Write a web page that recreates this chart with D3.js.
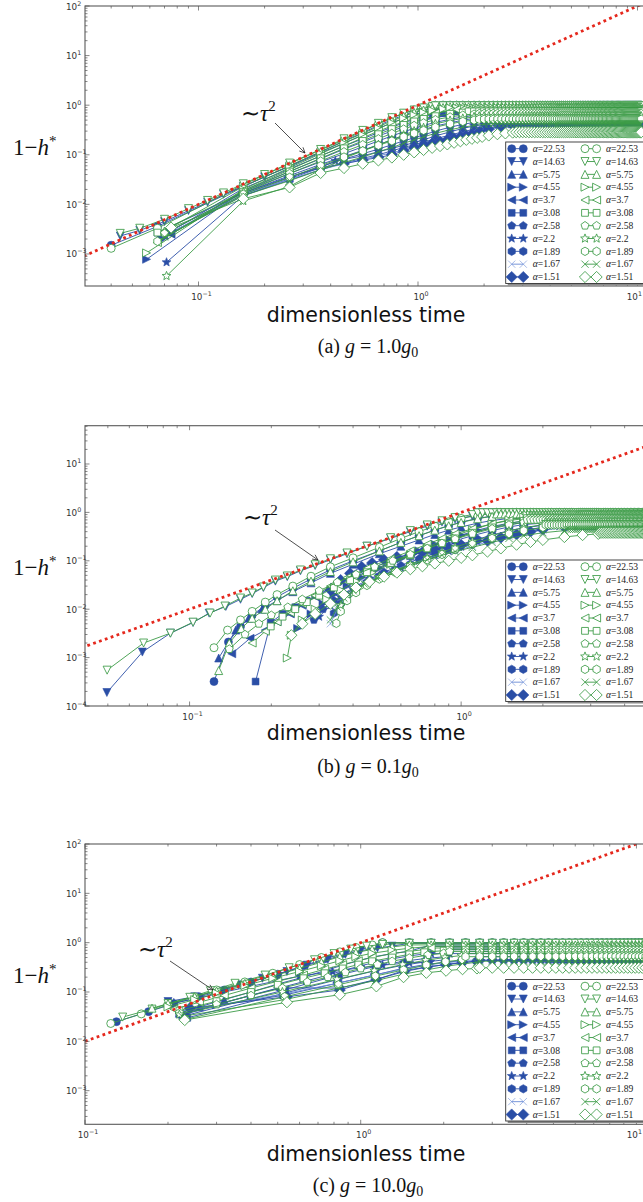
<!DOCTYPE html>
<html>
<head>
<meta charset="utf-8">
<script src="https://cdn.jsdelivr.net/npm/d3@7"></script>
<style>
body { margin: 0; background: #fff; }
svg { display: block; }
</style>
</head>
<body>
<div id="screen"></div>
<script>
var width = 643;
var height = 1202;

// legend labels, one per marker shape (blue = filled column, green = open column)
var alphas = ['22.53', '14.63', '5.75', '4.55', '3.7', '3.08', '2.58', '2.2', '1.89', '1.67', '1.51'];
var shapes = ['o', 'v', '^', '>', '<', 's', 'p', '*', 'h', 'x', 'D'];
var panelTags = ['(a)', '(b)', '(c)'];
var gravity = ['1.0', '0.1', '10.0'];

// --- panel (a), g = 1.0 g0 : transient points [tau, 1-h*] and steady level ---
var aBlue = [
  [[0.04,1.5e-3],[0.065,3.6e-3],[0.16,0.023],[0.26,0.06],[0.36,0.115],[0.46,0.19],[0.56,0.28],[0.66,0.39],[0.76,0.51],[0.86,0.63],[0.96,0.75],[1.06,0.85],[1.16,0.92]],
  [[0.044,2.3e-3],[0.054,3e-3],[0.07,4.5e-3],[0.09,7.5e-3],[0.11,0.011],[0.13,0.016],[0.16,0.023],[0.2,0.036],[0.26,0.058],[0.36,0.11],[0.46,0.17],[0.56,0.25],[0.66,0.34],[0.76,0.44],[0.86,0.54],[0.96,0.64],[1.06,0.72],[1.16,0.79],[1.26,0.85]],
  [[0.07,2.4e-3],[0.16,0.021],[0.26,0.052],[0.36,0.095],[0.46,0.15],[0.56,0.21],[0.66,0.28],[0.76,0.36],[0.86,0.44],[0.96,0.52],[1.06,0.59],[1.16,0.65],[1.3,0.71],[1.5,0.77]],
  [[0.058,7.8e-4],[0.16,0.019],[0.26,0.046],[0.36,0.083],[0.46,0.13],[0.56,0.18],[0.66,0.24],[0.76,0.3],[0.86,0.37],[0.96,0.43],[1.06,0.49],[1.2,0.56],[1.4,0.63],[1.6,0.68]],
  [[0.075,2.5e-3],[0.16,0.018],[0.26,0.042],[0.36,0.072],[0.46,0.105],[0.56,0.145],[0.66,0.19],[0.76,0.24],[0.86,0.29],[0.96,0.34],[1.06,0.39],[1.2,0.45],[1.4,0.52],[1.6,0.58],[1.8,0.62]],
  [[0.065,2.7e-3],[0.16,0.017],[0.26,0.038],[0.36,0.064],[0.46,0.092],[0.56,0.123],[0.66,0.16],[0.76,0.2],[0.86,0.24],[0.96,0.28],[1.06,0.32],[1.2,0.38],[1.4,0.44],[1.6,0.5],[1.8,0.54],[2.0,0.57]],
  [[0.075,2.7e-3],[0.16,0.016],[0.26,0.035],[0.36,0.058],[0.46,0.082],[0.56,0.105],[0.66,0.13],[0.76,0.16],[0.86,0.19],[0.96,0.22],[1.06,0.25],[1.2,0.3],[1.4,0.36],[1.6,0.41],[1.8,0.45],[2.0,0.48],[2.3,0.51]],
  [[0.0715,6.8e-4],[0.16,0.015],[0.26,0.033],[0.36,0.055],[0.42,0.075],[0.56,0.095],[0.66,0.115],[0.76,0.135],[0.86,0.155],[0.96,0.175],[1.06,0.2],[1.2,0.24],[1.4,0.29],[1.6,0.34],[1.8,0.38],[2.0,0.41],[2.3,0.44]],
  [[0.0675,2.1e-3],[0.16,0.015],[0.26,0.031],[0.36,0.05],[0.46,0.068],[0.56,0.085],[0.66,0.1],[0.76,0.12],[0.86,0.14],[0.96,0.16],[1.06,0.18],[1.2,0.21],[1.4,0.25],[1.6,0.29],[1.8,0.33],[2.0,0.36],[2.3,0.4],[2.6,0.42]],
  [[0.07,2.3e-3],[0.16,0.016],[0.26,0.032],[0.36,0.05],[0.46,0.066],[0.56,0.08],[0.66,0.095],[0.76,0.11],[0.86,0.125],[0.96,0.14],[1.06,0.16],[1.2,0.19],[1.4,0.23],[1.6,0.27],[1.8,0.3],[2.0,0.33],[2.3,0.37],[2.6,0.4],[2.9,0.43]],
  [[0.075,3e-3],[0.16,0.017],[0.26,0.036],[0.36,0.055],[0.46,0.066],[0.56,0.078],[0.66,0.088],[0.76,0.1],[0.86,0.12],[0.96,0.14],[1.06,0.155],[1.16,0.17],[1.26,0.185],[1.36,0.2],[1.46,0.215],[1.56,0.23],[1.66,0.245],[1.76,0.26],[1.9,0.29],[2.1,0.33],[2.4,0.37],[2.7,0.4],[2.9,0.44]]
];
var aBlueFlat = [1.0, 0.97, 0.93, 0.88, 0.82, 0.75, 0.68, 0.6, 0.52, 0.45, 0.45];
var aGreen = [
  [[0.04,1.3e-3],[0.065,3.3e-3],[0.16,0.025],[0.26,0.066],[0.36,0.125],[0.46,0.2],[0.56,0.3],[0.66,0.42],[0.76,0.55],[0.86,0.68],[0.96,0.8],[1.06,0.9],[1.16,0.96]],
  [[0.044,2.6e-3],[0.054,3.3e-3],[0.07,5e-3],[0.09,8.2e-3],[0.11,0.012],[0.13,0.017],[0.16,0.026],[0.2,0.04],[0.26,0.068],[0.36,0.128],[0.46,0.21],[0.56,0.31],[0.66,0.43],[0.76,0.56],[0.86,0.69],[0.96,0.8],[1.06,0.88],[1.16,0.93]],
  [[0.07,2.9e-3],[0.16,0.023],[0.26,0.06],[0.36,0.115],[0.46,0.185],[0.56,0.27],[0.66,0.37],[0.76,0.48],[0.86,0.6],[0.96,0.71],[1.06,0.8],[1.16,0.86],[1.3,0.9]],
  [[0.058,1.05e-3],[0.16,0.02],[0.26,0.055],[0.36,0.105],[0.46,0.17],[0.56,0.25],[0.66,0.34],[0.76,0.44],[0.86,0.54],[0.96,0.63],[1.06,0.71],[1.16,0.78],[1.3,0.84]],
  [[0.065,1.7e-3],[0.16,0.019],[0.26,0.05],[0.36,0.095],[0.46,0.15],[0.56,0.22],[0.66,0.3],[0.76,0.38],[0.86,0.46],[0.96,0.54],[1.06,0.61],[1.2,0.69],[1.4,0.76]],
  [[0.065,2.7e-3],[0.16,0.018],[0.26,0.046],[0.36,0.085],[0.46,0.135],[0.56,0.19],[0.66,0.26],[0.76,0.33],[0.86,0.4],[0.96,0.47],[1.06,0.53],[1.2,0.6],[1.4,0.67],[1.6,0.71]],
  [[0.07,2.6e-3],[0.16,0.017],[0.26,0.042],[0.36,0.075],[0.46,0.115],[0.56,0.16],[0.66,0.21],[0.76,0.27],[0.86,0.33],[0.96,0.39],[1.06,0.44],[1.2,0.51],[1.4,0.58],[1.6,0.63],[1.8,0.66]],
  [[0.0715,3.6e-4],[0.16,0.0117],[0.26,0.023],[0.36,0.05],[0.46,0.085],[0.56,0.12],[0.66,0.16],[0.76,0.2],[0.86,0.25],[0.96,0.3],[1.06,0.35],[1.2,0.42],[1.4,0.49],[1.6,0.54],[1.8,0.58]],
  [[0.065,1.8e-3],[0.16,0.016],[0.26,0.035],[0.36,0.06],[0.46,0.09],[0.56,0.12],[0.66,0.155],[0.76,0.19],[0.86,0.23],[0.96,0.27],[1.06,0.31],[1.2,0.36],[1.4,0.42],[1.6,0.47],[1.8,0.5]],
  [[0.07,2.2e-3],[0.16,0.015],[0.26,0.03],[0.36,0.05],[0.46,0.07],[0.56,0.09],[0.66,0.115],[0.76,0.14],[0.86,0.17],[0.96,0.2],[1.06,0.23],[1.2,0.27],[1.4,0.32],[1.6,0.36],[1.8,0.39],[2.0,0.41]],
  [[0.075,3.4e-3],[0.16,0.013],[0.26,0.022],[0.36,0.043],[0.46,0.054],[0.56,0.066],[0.66,0.077],[0.76,0.088],[0.86,0.1],[0.96,0.112],[1.06,0.125],[1.16,0.138],[1.26,0.15],[1.36,0.162],[1.46,0.175],[1.56,0.187],[1.66,0.2],[1.76,0.21],[1.86,0.22],[1.96,0.23],[2.1,0.245],[2.3,0.26],[2.5,0.27],[2.7,0.28]]
];
var aGreenFlat = [1.0, 0.97, 0.93, 0.88, 0.82, 0.75, 0.68, 0.6, 0.52, 0.42, 0.285];
var flatTimesA = [1.1,1.2,1.3,1.4,1.5,1.6,1.7,1.8,1.9,2.0,2.1,2.2,2.3,2.4,2.5,2.6,2.7,2.8,2.9,3.0,
  3.1,3.2,3.3,3.4,3.5,3.6,3.7,3.8,3.9,4.0,4.1,4.2,4.3,4.4,4.5,4.6,4.7,4.8,4.9,5.0,
  5.1,5.2,5.3,5.4,5.5,5.6,5.7,5.8,5.9,6.0,6.1,6.2,6.3,6.4,6.5,6.6,6.7,6.8,6.9,7.0,
  7.1,7.2,7.3,7.4,7.5,7.6,7.7,7.8,7.9,8.0,8.1,8.2,8.3,8.4,8.5,8.6,8.7,8.8,8.9,9.0,
  9.1,9.2,9.3,9.4,9.5,9.6,9.7,9.8,9.9,10.0,10.1,10.2,10.3,10.4];
var refA = [[0.03, 9e-4], [12, 144]];

// --- panel (b), g = 0.1 g0 ---
var bBlue = [
  [[0.123,3.2e-4],[0.139,2.1e-3],[0.154,4.4e-3],[0.17,7.5e-3],[0.19,0.012],[0.21,0.018],[0.24,0.027],[0.28,0.042],[0.33,0.065],[0.4,0.1],[0.5,0.16],[0.6,0.24],[0.7,0.33],[0.8,0.43],[0.9,0.53],[1.0,0.63],[1.15,0.75],[1.3,0.84]],
  [[0.0496,1.9e-4],[0.067,1.3e-3],[0.085,3.2e-3],[0.103,5.3e-3],[0.118,8.3e-3],[0.136,0.0114],[0.154,0.016],[0.17,0.021],[0.187,0.028],[0.207,0.038],[0.229,0.047],[0.256,0.062],[0.29,0.08],[0.33,0.105],[0.38,0.14],[0.45,0.2],[0.55,0.29],[0.65,0.4],[0.75,0.52],[0.85,0.63],[0.95,0.73],[1.1,0.84]],
  [[0.128,9.8e-4],[0.148,3.7e-3],[0.165,6.5e-3],[0.185,0.01],[0.21,0.015],[0.24,0.023],[0.28,0.035],[0.33,0.055],[0.4,0.085],[0.5,0.14],[0.6,0.2],[0.7,0.27],[0.8,0.35],[0.9,0.43],[1.0,0.5],[1.15,0.6],[1.3,0.68],[1.5,0.75]],
  [[0.25,4e-3],[0.28,8e-3],[0.31,0.013],[0.34,0.02],[0.38,0.03],[0.43,0.045],[0.5,0.07],[0.6,0.11],[0.7,0.16],[0.8,0.22],[0.9,0.28],[1.0,0.34],[1.15,0.43],[1.3,0.51],[1.5,0.6],[1.7,0.66]],
  [[0.143,1.2e-3],[0.167,2.5e-3],[0.19,3.7e-3],[0.21,5.5e-3],[0.235,8e-3],[0.26,0.012],[0.29,0.018],[0.33,0.028],[0.38,0.042],[0.45,0.065],[0.55,0.1],[0.65,0.14],[0.75,0.19],[0.85,0.24],[0.95,0.3],[1.1,0.38],[1.3,0.48],[1.5,0.56],[1.7,0.62]],
  [[0.175,3.2e-4],[0.199,5.3e-3],[0.22,8e-3],[0.245,0.011],[0.27,0.015],[0.3,0.02],[0.34,0.029],[0.39,0.042],[0.45,0.06],[0.55,0.09],[0.65,0.125],[0.75,0.165],[0.85,0.21],[0.95,0.26],[1.1,0.33],[1.3,0.42],[1.5,0.5],[1.7,0.56],[2.0,0.6]],
  [[0.287,6e-3],[0.31,0.01],[0.34,0.015],[0.37,0.021],[0.41,0.03],[0.46,0.042],[0.52,0.058],[0.6,0.08],[0.7,0.11],[0.8,0.145],[0.9,0.18],[1.0,0.22],[1.15,0.28],[1.3,0.34],[1.5,0.42],[1.7,0.48],[2.0,0.54]],
  [[0.3,7e-3],[0.33,0.012],[0.36,0.018],[0.4,0.026],[0.45,0.037],[0.5,0.05],[0.6,0.072],[0.7,0.1],[0.8,0.13],[0.9,0.16],[1.0,0.195],[1.15,0.25],[1.3,0.3],[1.5,0.37],[1.7,0.43],[2.0,0.49],[2.3,0.52]],
  [[0.34,8.3e-3],[0.36,0.013],[0.38,0.019],[0.41,0.027],[0.45,0.036],[0.5,0.048],[0.57,0.065],[0.65,0.085],[0.75,0.11],[0.85,0.14],[0.95,0.17],[1.1,0.22],[1.3,0.28],[1.5,0.34],[1.7,0.4],[2.0,0.46],[2.4,0.5]],
  [[0.33,5e-3],[0.35,0.01],[0.37,0.016],[0.4,0.024],[0.44,0.034],[0.49,0.046],[0.56,0.063],[0.65,0.085],[0.75,0.11],[0.85,0.135],[0.95,0.16],[1.1,0.2],[1.3,0.26],[1.5,0.32],[1.7,0.37],[2.0,0.43],[2.4,0.48]],
  [[0.33,0.025],[0.36,0.04],[0.39,0.055],[0.43,0.075],[0.47,0.09],[0.52,0.105],[0.58,0.12],[0.65,0.135],[0.72,0.15],[0.8,0.17],[0.9,0.19],[1.0,0.21],[1.1,0.23],[1.25,0.26],[1.4,0.3],[1.6,0.35],[1.8,0.4],[2.0,0.44],[2.4,0.5],[2.8,0.54]]
];
var bBlueFlat = [1.0, 0.98, 0.93, 0.88, 0.82, 0.76, 0.7, 0.63, 0.55, 0.5, 0.57];
var bGreen = [
  [[0.123,1.6e-3],[0.138,3.7e-3],[0.154,6e-3],[0.17,9e-3],[0.19,0.014],[0.21,0.02],[0.24,0.03],[0.28,0.048],[0.33,0.075],[0.4,0.115],[0.5,0.19],[0.6,0.29],[0.7,0.4],[0.8,0.52],[0.9,0.64],[1.0,0.75],[1.15,0.87],[1.3,0.94]],
  [[0.0497,5.5e-4],[0.0677,2e-3],[0.085,3.2e-3],[0.103,5.4e-3],[0.119,8.3e-3],[0.135,0.0116],[0.154,0.017],[0.17,0.0216],[0.187,0.0288],[0.207,0.04],[0.229,0.0486],[0.256,0.0646],[0.29,0.083],[0.33,0.11],[0.38,0.145],[0.45,0.2],[0.55,0.3],[0.65,0.42],[0.75,0.55],[0.85,0.67],[0.95,0.78],[1.1,0.9]],
  [[0.128,5.4e-4],[0.14,2e-3],[0.155,4e-3],[0.17,6.5e-3],[0.19,0.01],[0.21,0.015],[0.24,0.024],[0.28,0.038],[0.33,0.06],[0.4,0.095],[0.5,0.16],[0.6,0.24],[0.7,0.33],[0.8,0.43],[0.9,0.53],[1.0,0.62],[1.15,0.74],[1.3,0.83]],
  [[0.229,9.8e-4],[0.237,2.9e-3],[0.26,6e-3],[0.29,0.01],[0.32,0.016],[0.36,0.025],[0.41,0.038],[0.47,0.057],[0.55,0.085],[0.65,0.13],[0.75,0.19],[0.85,0.26],[0.95,0.33],[1.1,0.44],[1.3,0.58],[1.5,0.7],[1.7,0.8]],
  [[0.17,2e-3],[0.19,3.5e-3],[0.21,5.5e-3],[0.235,8.5e-3],[0.26,0.013],[0.29,0.019],[0.33,0.03],[0.38,0.045],[0.45,0.07],[0.55,0.11],[0.65,0.16],[0.75,0.22],[0.85,0.29],[0.95,0.36],[1.1,0.46],[1.3,0.58],[1.5,0.68],[1.7,0.74]],
  [[0.199,4.4e-3],[0.22,7e-3],[0.245,0.01],[0.27,0.014],[0.3,0.019],[0.34,0.028],[0.39,0.04],[0.45,0.058],[0.55,0.09],[0.65,0.13],[0.75,0.18],[0.85,0.23],[0.95,0.29],[1.1,0.38],[1.3,0.49],[1.5,0.59],[1.7,0.67]],
  [[0.14,1.5e-3],[0.16,3e-3],[0.18,5e-3],[0.2,7.5e-3],[0.23,0.011],[0.26,0.016],[0.3,0.024],[0.35,0.036],[0.41,0.052],[0.48,0.075],[0.56,0.1],[0.65,0.135],[0.75,0.18],[0.85,0.23],[0.95,0.28],[1.1,0.36],[1.3,0.46],[1.5,0.55],[1.7,0.62]],
  [[0.36,0.012],[0.38,0.018],[0.41,0.025],[0.45,0.034],[0.5,0.046],[0.57,0.063],[0.65,0.085],[0.75,0.115],[0.85,0.15],[0.95,0.19],[1.1,0.25],[1.3,0.33],[1.5,0.41],[1.7,0.48],[2.0,0.56]],
  [[0.347,5.1e-3],[0.36,9e-3],[0.38,0.015],[0.41,0.022],[0.45,0.031],[0.5,0.042],[0.57,0.058],[0.65,0.078],[0.75,0.105],[0.85,0.135],[0.95,0.17],[1.1,0.22],[1.3,0.29],[1.5,0.36],[1.7,0.42],[2.0,0.49]],
  [[0.33,6e-3],[0.35,0.011],[0.37,0.017],[0.4,0.024],[0.44,0.033],[0.49,0.044],[0.56,0.06],[0.65,0.08],[0.75,0.105],[0.85,0.13],[0.95,0.155],[1.1,0.19],[1.3,0.24],[1.5,0.29],[1.7,0.33],[2.0,0.38],[2.4,0.42]],
  [[0.237,2.9e-3],[0.26,5e-3],[0.29,8e-3],[0.33,0.013],[0.37,0.02],[0.41,0.028],[0.46,0.037],[0.52,0.047],[0.58,0.057],[0.65,0.067],[0.72,0.077],[0.8,0.088],[0.9,0.1],[1.0,0.115],[1.1,0.13],[1.25,0.155],[1.4,0.18],[1.6,0.215],[1.8,0.245],[2.0,0.27],[2.4,0.31],[2.8,0.34],[3.2,0.36]]
];
var bGreenFlat = [1.0, 0.98, 0.93, 0.88, 0.82, 0.76, 0.7, 0.63, 0.55, 0.45, 0.38];
var flatTimesB = [0.9,0.95,1.0,1.05,1.1,1.15,1.2,1.25,1.3,1.35,1.4,1.45,1.5,1.55,1.6,1.65,1.7,1.75,1.8,1.85,
  1.9,1.95,2.0,2.05,2.1,2.15,2.2,2.25,2.3,2.35,2.4,2.45,2.5,2.55,2.6,2.65,2.7,2.75,2.8,2.85,
  2.9,2.95,3.0,3.05,3.1,3.15,3.2,3.25,3.3,3.35,3.4,3.45,3.5,3.55,3.6,3.65,3.7,3.75,3.8,3.85,
  3.9,3.95,4.0,4.05,4.1,4.15,4.2,4.25,4.3,4.35,4.4,4.45,4.5,4.55,4.6,4.65,4.7,4.75,4.8,4.85,4.9];
var refB = [[0.04, 1.6e-3], [5, 25]];

// --- panel (c), g = 10.0 g0 ---
var cBlue = [
  [[0.13,0.025],[0.17,0.04],[0.21,0.058],[0.26,0.08],[0.32,0.11],[0.4,0.16],[0.5,0.23],[0.62,0.34],[0.74,0.47],[0.86,0.6],[0.98,0.72],[1.1,0.82]],
  [[0.2,0.064],[0.25,0.08],[0.3,0.105],[0.36,0.14],[0.44,0.19],[0.54,0.26],[0.64,0.35],[0.76,0.46],[0.88,0.58],[1.0,0.69],[1.15,0.78],[1.3,0.85]],
  [[0.22,0.037],[0.26,0.05],[0.32,0.07],[0.4,0.1],[0.5,0.145],[0.62,0.2],[0.74,0.27],[0.86,0.35],[0.98,0.43],[1.1,0.51],[1.3,0.6],[1.5,0.67]],
  [[0.23,0.035],[0.3,0.055],[0.4,0.085],[0.52,0.125],[0.64,0.17],[0.76,0.22],[0.88,0.28],[1.0,0.34],[1.15,0.41],[1.3,0.47],[1.5,0.54],[1.75,0.6]],
  [[0.23,0.033],[0.53,0.11],[0.83,0.22],[1.13,0.33],[1.43,0.42],[1.73,0.48],[2.03,0.52]],
  [[0.235,0.03],[0.53,0.095],[0.83,0.18],[1.13,0.27],[1.43,0.35],[1.73,0.41],[2.03,0.45]],
  [[0.22,0.04],[0.52,0.085],[0.82,0.15],[1.12,0.22],[1.42,0.3],[1.72,0.36],[2.02,0.4],[2.32,0.43]],
  [[0.21,0.06],[0.26,0.075],[0.32,0.1],[0.4,0.13],[0.5,0.17],[0.6,0.21],[0.79,0.26],[1.0,0.31],[1.2,0.35],[1.5,0.39],[1.79,0.41]],
  [[0.22,0.035],[0.505,0.122],[0.84,0.12],[1.14,0.18],[1.43,0.27],[1.73,0.32],[2.03,0.36],[2.33,0.39],[2.63,0.42]],
  [[0.22,0.04],[0.52,0.09],[0.82,0.15],[1.12,0.22],[1.42,0.29],[1.72,0.35],[2.02,0.39],[2.32,0.42]],
  [[0.24,0.047],[0.54,0.08],[0.84,0.11],[1.14,0.18],[1.44,0.26],[1.74,0.32],[2.04,0.36],[2.34,0.4],[2.64,0.42]]
];
var cBlueFlat = [1.0, 0.97, 0.9, 0.84, 0.78, 0.72, 0.66, 0.6, 0.52, 0.44, 0.44];
var cGreen = [
  [[0.124,0.023],[0.16,0.036],[0.2,0.055],[0.25,0.08],[0.3,0.11],[0.38,0.16],[0.48,0.24],[0.6,0.36],[0.72,0.5],[0.84,0.65],[0.96,0.8],[1.1,0.9]],
  [[0.137,0.031],[0.175,0.045],[0.2,0.058],[0.24,0.078],[0.285,0.106],[0.35,0.15],[0.45,0.22],[0.55,0.31],[0.68,0.45],[0.8,0.6],[0.92,0.74],[1.05,0.85],[1.2,0.92]],
  [[0.175,0.047],[0.2,0.058],[0.25,0.08],[0.3,0.105],[0.38,0.15],[0.48,0.21],[0.6,0.3],[0.72,0.4],[0.84,0.52],[0.96,0.63],[1.1,0.73],[1.3,0.82]],
  [[0.2,0.05],[0.25,0.07],[0.3,0.095],[0.38,0.135],[0.48,0.19],[0.6,0.26],[0.72,0.34],[0.84,0.43],[0.96,0.52],[1.1,0.61],[1.3,0.7],[1.5,0.77]],
  [[0.21,0.045],[0.26,0.062],[0.32,0.085],[0.4,0.12],[0.5,0.165],[0.62,0.22],[0.74,0.29],[0.86,0.36],[0.98,0.43],[1.1,0.5],[1.3,0.6],[1.5,0.67],[1.7,0.72]],
  [[0.22,0.042],[0.3,0.065],[0.4,0.1],[0.5,0.14],[0.62,0.19],[0.74,0.24],[0.86,0.3],[0.98,0.36],[1.1,0.42],[1.3,0.5],[1.5,0.58],[1.7,0.64],[2.0,0.69]],
  [[0.22,0.038],[0.3,0.056],[0.4,0.085],[0.52,0.12],[0.64,0.16],[0.76,0.2],[0.88,0.25],[1.0,0.3],[1.15,0.36],[1.3,0.42],[1.5,0.49],[1.75,0.56],[2.0,0.61]],
  [[0.22,0.035],[0.52,0.1],[0.82,0.18],[1.12,0.27],[1.42,0.36],[1.72,0.44],[2.02,0.5],[2.32,0.55]],
  [[0.231,0.028],[0.53,0.08],[0.83,0.14],[1.13,0.21],[1.43,0.28],[1.73,0.35],[2.03,0.41],[2.33,0.45]],
  [[0.225,0.032],[0.53,0.07],[0.83,0.12],[1.13,0.17],[1.43,0.23],[1.73,0.28],[2.03,0.33],[2.33,0.37],[2.63,0.4]],
  [[0.23,0.027],[0.54,0.062],[0.84,0.088],[1.14,0.13],[1.43,0.2],[1.73,0.245],[2.04,0.27],[2.34,0.29],[2.64,0.3]]
];
var cGreenFlat = [1.0, 0.97, 0.9, 0.84, 0.78, 0.72, 0.66, 0.6, 0.52, 0.42, 0.31];
var flatTimesC = [1.2,1.5,1.8,2.1,2.4,2.7,3.0,3.3,3.6,3.9,4.2,4.5,4.8,5.1,5.4,5.7,6.0,6.3,6.6,6.9,7.2,7.5,7.8,8.1,8.4,8.7,9.0,9.3,9.6,9.9,10.2,10.5,10.8];
var refC = [[0.1, 0.01], [12, 144]];

// layout
var plotLeft = 85, plotRight = 650;
var blueCol = '#2a4ea6', blueX = '#6a8bd6', greenCol = '#3b9b46', redCol = '#e5281d';
var panels = [
  { id: 'a', top: 6, bottom: 286, xDom: [0.0304, 11.4], yDom: [2.26e-4, 100], legTop: 142,
    yLab: 155, xLab: 321.5, cap: 353, ann: [241, 121, 275, 123, 305, 153] },
  { id: 'b', top: 425.7, bottom: 706, xDom: [0.0412, 4.96], yDom: [1e-4, 61.8], legTop: 560,
    yLab: 575, xLab: 740, cap: 773, ann: [243, 525, 275, 530, 318, 560] },
  { id: 'c', top: 844, bottom: 1124.3, xDom: [0.1, 11.2], yDom: [2.08e-4, 100], legTop: 979.5,
    yLab: 983, xLab: 1161, cap: 1191.5, ann: [138, 957, 170, 961, 213, 990] }
];

var svg = d3.select("#screen").append("svg").attr("width", width).attr("height", height);

function polar(r, deg) {
  var a = (deg - 90) * Math.PI / 180;
  return [(r * Math.cos(a)).toFixed(2), (r * Math.sin(a)).toFixed(2)];
}

function markerPath(k) {
  var s = 4, p, q;
  if (k == 'o') return 'M' + s + ',0A' + s + ',' + s + ' 0 1,1 ' + (-s) + ',0A' + s + ',' + s + ' 0 1,1 ' + s + ',0Z';
  if (k == 'v') p = [[-s, -s], [s, -s], [0, s]];
  if (k == '^') p = [[0, -s], [s, s], [-s, s]];
  if (k == '>') p = [[-s, -s], [s, 0], [-s, s]];
  if (k == '<') p = [[s, -s], [-s, 0], [s, s]];
  if (k == 's') { q = s * 0.85; p = [[-q, -q], [q, -q], [q, q], [-q, q]]; }
  if (k == 'p') p = d3.range(5).map(function (i) { return polar(s * 1.05, i * 72); });
  if (k == '*') p = d3.range(10).map(function (i) { return polar(i % 2 ? s * 0.5 : s * 1.15, i * 36); });
  if (k == 'h') p = d3.range(6).map(function (i) { return polar(s * 1.05, i * 60); });
  if (k == 'x') { q = s * 0.9; return 'M' + (-q) + ',' + (-q) + 'L' + q + ',' + q + 'M' + (-q) + ',' + q + 'L' + q + ',' + (-q); }
  if (k == 'D') { q = s * 1.4; p = [[0, -q], [q, 0], [0, q], [-q, 0]]; }
  return 'M' + p.join('L') + 'Z';
}

// transient samples followed by the steady level at the listed output times
function seriesPoints(trans, level, times) {
  var last = trans[trans.length - 1][0];
  var pts = trans.slice();
  times.forEach(function (t) { if (t > last + 1e-9) pts.push([t, level]); });
  return pts;
}

function colorOf(shape, filled) {
  return filled ? (shape == 'x' ? blueX : blueCol) : greenCol;
}

function styleMarker(sel, shape, filled) {
  var col = colorOf(shape, filled);
  sel.attr('d', markerPath(shape))
    .attr('fill', filled ? (shape == 'x' ? 'none' : col) : (shape == 'x' ? 'none' : '#fff'))
    .attr('stroke', col)
    .attr('stroke-width', filled ? 0.6 : 0.85);
}

function drawSeries(g, pts, shape, filled, x, y) {
  var col = colorOf(shape, filled);
  var line = d3.line().x(function (d) { return x(d[0]); }).y(function (d) { return y(d[1]); });
  g.append('path').datum(pts).attr('d', line)
    .attr('fill', 'none').attr('stroke', col).attr('stroke-width', 0.9);
  var m = g.selectAll(null).data(pts).enter().append('path')
    .attr('transform', function (d) { return 'translate(' + x(d[0]).toFixed(2) + ',' + y(d[1]).toFixed(2) + ')'; });
  styleMarker(m, shape, filled);
}

function expLabel(sel, k, size) {
  sel.append('tspan').text('10');
  sel.append('tspan').attr('dy', -4).attr('font-size', size * 0.72).text(k < 0 ? '\u2212' + (-k) : '' + k);
}

function drawAxes(p, x, y) {
  var g = svg.append('g');
  g.append('rect').attr('x', plotLeft).attr('y', p.top)
    .attr('width', plotRight - plotLeft).attr('height', p.bottom - p.top)
    .attr('fill', 'none').attr('stroke', '#5a5a5a').attr('stroke-width', 1.1);
  var xd = x.domain(), yd = y.domain(), k, m, v, len;
  for (k = Math.floor(Math.log10(xd[0])); k <= Math.ceil(Math.log10(xd[1])); k++) {
    for (m = 1; m < 10; m++) {
      v = m * Math.pow(10, k);
      if (v < xd[0] * 0.999 || v > xd[1] * 1.001) continue;
      len = m == 1 ? 4.5 : 2.5;
      var px = x(v);
      g.append('line').attr('x1', px).attr('x2', px).attr('y1', p.bottom).attr('y2', p.bottom - len)
        .attr('stroke', '#555').attr('stroke-width', 0.7);
      g.append('line').attr('x1', px).attr('x2', px).attr('y1', p.top).attr('y2', p.top + len)
        .attr('stroke', '#555').attr('stroke-width', 0.7);
      if (m == 1) {
        // the last label sits at the cropped right edge: keep it inside the page
        var nearEdge = px + 12 > width;
        var t = g.append('text').attr('x', nearEdge ? width - 1 : px + 3).attr('y', p.bottom + 13.5)
          .attr('text-anchor', nearEdge ? 'end' : 'middle')
          .attr('font-family', 'DejaVu Sans').attr('font-size', 8.8).attr('fill', '#333');
        expLabel(t, k, 8.8);
      }
    }
  }
  for (k = Math.floor(Math.log10(yd[0])); k <= Math.ceil(Math.log10(yd[1])); k++) {
    for (m = 1; m < 10; m++) {
      v = m * Math.pow(10, k);
      if (v < yd[0] * 0.999 || v > yd[1] * 1.001) continue;
      len = m == 1 ? 4.5 : 2.5;
      var py = y(v);
      g.append('line').attr('x1', plotLeft).attr('x2', plotLeft + len).attr('y1', py).attr('y2', py)
        .attr('stroke', '#555').attr('stroke-width', 0.7);
      if (m == 1) {
        var ty = g.append('text').attr('x', 66).attr('y', py + 3.5)
          .attr('font-family', 'DejaVu Sans').attr('font-size', 8.8).attr('fill', '#333');
        expLabel(ty, k, 8.8);
      }
    }
  }
}

function drawLegend(p) {
  var lx = 505.7, ly = p.legTop, lw = 150, lh = 141.5, pitch = 12.83;
  var g = svg.append('g');
  g.append('rect').attr('x', lx + 2).attr('y', ly + 2).attr('width', lw).attr('height', lh).attr('fill', '#8a8a8a');
  g.append('rect').attr('x', lx).attr('y', ly).attr('width', lw).attr('height', lh)
    .attr('fill', '#fff').attr('stroke', '#333').attr('stroke-width', 0.9);
  [0, 1].forEach(function (c) {
    var off = c == 0 ? 0 : 73.3;
    alphas.forEach(function (a, i) {
      var ry = ly + 6.7 + i * pitch;
      var x1 = lx + 6 + off, x2 = lx + 17.6 + off;
      g.append('line').attr('x1', x1).attr('x2', x2).attr('y1', ry).attr('y2', ry)
        .attr('stroke', colorOf(shapes[i], c == 0)).attr('stroke-width', 0.9);
      [x1, x2].forEach(function (mx) {
        var mk = g.append('path').attr('transform', 'translate(' + mx + ',' + ry + ')');
        styleMarker(mk, shapes[i], c == 0);
      });
      var t = g.append('text').attr('x', lx + 27 + off).attr('y', ry + 3.3)
        .attr('font-family', 'Liberation Serif').attr('font-size', 9.6).attr('fill', '#222');
      t.append('tspan').attr('font-style', 'italic').text('\u03b1');
      t.append('tspan').text('=' + a);
    });
  });
}

function drawPanel(idx, blue, blueFlat, green, greenFlat, times, ref) {
  var p = panels[idx];
  var x = d3.scaleLog().domain(p.xDom).range([plotLeft, plotRight]);
  var y = d3.scaleLog().domain(p.yDom).range([p.bottom, p.top]);
  svg.append('clipPath').attr('id', 'clip' + p.id).append('rect')
    .attr('x', plotLeft).attr('y', p.top).attr('width', plotRight - plotLeft).attr('height', p.bottom - p.top);
  var g = svg.append('g').attr('clip-path', 'url(#clip' + p.id + ')');

  blue.forEach(function (tr, i) { drawSeries(g, seriesPoints(tr, blueFlat[i], times), shapes[i], true, x, y); });
  green.forEach(function (tr, i) { drawSeries(g, seriesPoints(tr, greenFlat[i], times), shapes[i], false, x, y); });

  // ~tau^2 guide
  g.append('path').datum(ref)
    .attr('d', d3.line().x(function (d) { return x(d[0]); }).y(function (d) { return y(d[1]); }))
    .attr('fill', 'none').attr('stroke', redCol).attr('stroke-width', 2.8).attr('stroke-dasharray', '2.8,3.4');

  drawAxes(p, x, y);
  drawLegend(p);

  // annotation
  var an = p.ann;
  var at = svg.append('text').attr('x', an[0]).attr('y', an[1])
    .attr('font-family', 'Liberation Serif').attr('font-size', 23).attr('fill', '#111');
  at.append('tspan').text('\u223c');
  at.append('tspan').attr('font-style', 'italic').text('\u03c4');
  at.append('tspan').attr('dy', -10).attr('font-size', 15).text('2');
  svg.append('line').attr('x1', an[2]).attr('y1', an[3]).attr('x2', an[4]).attr('y2', an[5])
    .attr('stroke', '#222').attr('stroke-width', 0.8);
  var ang = Math.atan2(an[5] - an[3], an[4] - an[2]);
  var hl = 6, hw = 0.45;
  svg.append('path')
    .attr('d', 'M' + (an[4] - hl * Math.cos(ang - hw)) + ',' + (an[5] - hl * Math.sin(ang - hw)) +
      'L' + an[4] + ',' + an[5] + 'L' + (an[4] - hl * Math.cos(ang + hw)) + ',' + (an[5] - hl * Math.sin(ang + hw)))
    .attr('fill', 'none').attr('stroke', '#222').attr('stroke-width', 0.8);

  // y label
  var yl = svg.append('text').attr('x', 13).attr('y', p.yLab)
    .attr('font-family', 'Liberation Serif').attr('font-size', 23).attr('fill', '#111');
  yl.append('tspan').text('1\u2212');
  yl.append('tspan').attr('font-style', 'italic').text('h');
  yl.append('tspan').attr('dy', -9).attr('font-size', 15).text('*');

  // x label
  svg.append('text').attr('x', 366).attr('y', p.xLab).attr('text-anchor', 'middle')
    .attr('font-family', 'DejaVu Sans').attr('font-size', 20.5).attr('fill', '#111')
    .text('dimensionless time');

  // caption
  var cp = svg.append('text').attr('x', 368).attr('y', p.cap).attr('text-anchor', 'middle')
    .attr('font-family', 'Liberation Serif').attr('font-size', 20).attr('fill', '#111');
  cp.append('tspan').text(panelTags[idx] + ' ');
  cp.append('tspan').attr('font-style', 'italic').text('g');
  cp.append('tspan').text(' = ' + gravity[idx]);
  cp.append('tspan').attr('font-style', 'italic').text('g');
  cp.append('tspan').attr('dy', 4).attr('font-size', 14).text('0');
}

drawPanel(0, aBlue, aBlueFlat, aGreen, aGreenFlat, flatTimesA, refA);
drawPanel(1, bBlue, bBlueFlat, bGreen, bGreenFlat, flatTimesB, refB);
drawPanel(2, cBlue, cBlueFlat, cGreen, cGreenFlat, flatTimesC, refC);
</script>
</body>
</html>
